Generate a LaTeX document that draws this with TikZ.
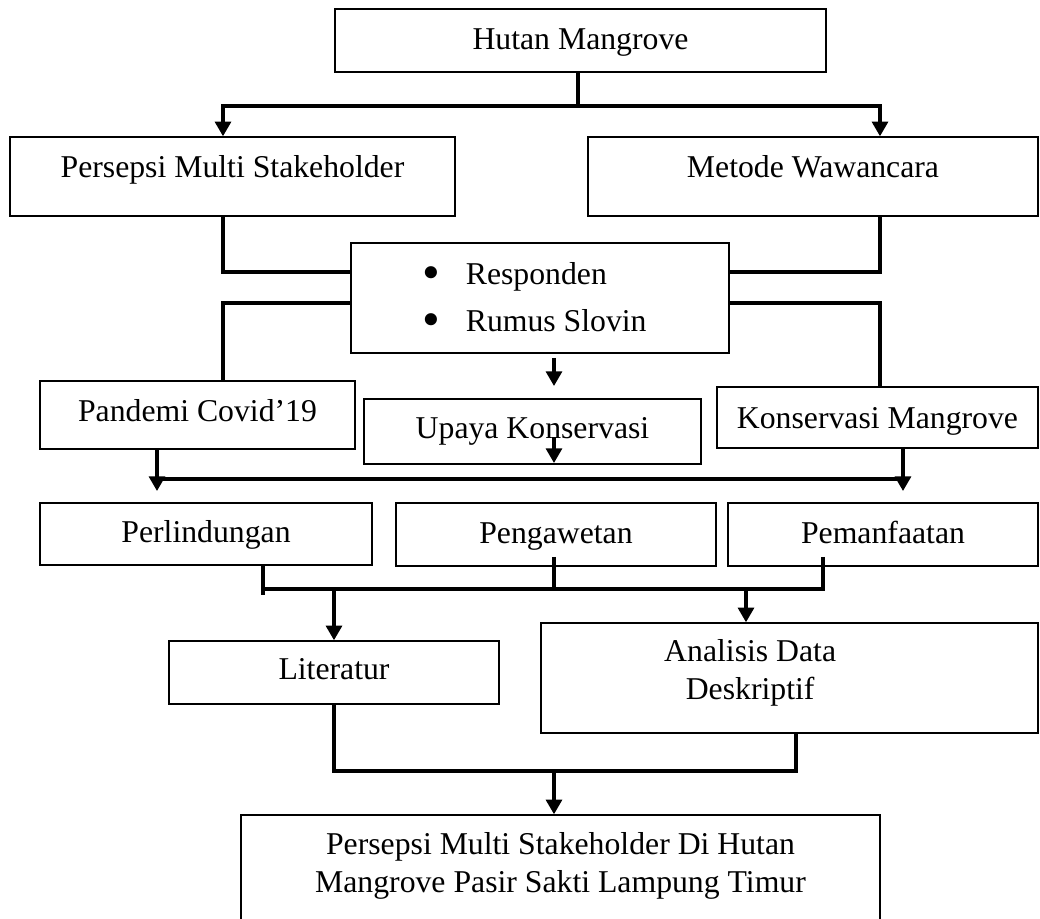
\documentclass[tikz,border=0pt]{standalone}
\usepackage{fontspec}
\setmainfont{Liberation Serif}
\usetikzlibrary{arrows.meta}

\begin{document}
\begin{tikzpicture}[x=0.75pt,y=0.75pt,yscale=-1,
    kotak/.style={draw, line width=1.1pt, inner sep=0pt, align=center, font=\fontsize{23.8}{28.5}\selectfont},
    garis/.style={line width=2.4pt},
    panah/.style={line width=2.4pt, -{Triangle[length=11pt,width=12pt]}}]

    \useasboundingbox (0,0) rectangle (1040,919);

    \draw (580.5,40.5) node [kotak, minimum width=368.25pt, minimum height=47.25pt, text height=21.1pt, text depth=6.9pt] (hutan) {Hutan Mangrove};
    \draw (232.5,176.5) node [kotak, minimum width=333.75pt, minimum height=59.25pt, text height=14.4pt, text depth=13.6pt] (persepsi) {Persepsi Multi Stakeholder};
    \draw (813,176.5) node [kotak, minimum width=337.5pt, minimum height=59.25pt, text height=14.4pt, text depth=13.6pt] (metode) {Metode Wawancara};
    \draw (540,298) node [kotak, align=left, minimum width=283.5pt, minimum height=82.5pt, text height=51.5pt, text depth=0.5pt] (responden) {\raisebox{-3.5pt}{\scalebox{1.6}{\textbullet}}\hspace{19pt}Responden\\[6.75pt]\raisebox{-3.5pt}{\scalebox{1.6}{\textbullet}}\hspace{19pt}Rumus Slovin\hspace*{8pt}};
    \draw (197.5,415) node [kotak, minimum width=236.25pt, minimum height=51pt, text height=19.25pt, text depth=8.75pt] (pandemi) {Pandemi Covid’19};
    \draw (532.5,431.5) node [kotak, minimum width=252.75pt, minimum height=48.75pt, text height=18.9pt, text depth=9.1pt] (upaya) {Upaya Konservasi};
    \draw (877.5,417.5) node [kotak, minimum width=240.75pt, minimum height=45.75pt, text height=21.9pt, text depth=6.1pt] (konservasi) {Konservasi Mangrove};
    \draw (206,534) node [kotak, minimum width=249pt, minimum height=46.5pt, text height=20.75pt, text depth=7.25pt] (perlindungan) {Perlindungan};
    \draw (556,534.5) node [kotak, minimum width=240pt, minimum height=47.25pt, text height=20.4pt, text depth=7.6pt] (pengawetan) {Pengawetan};
    \draw (883,534.5) node [kotak, minimum width=232.5pt, minimum height=47.25pt, text height=20.4pt, text depth=7.6pt] (pemanfaatan) {Pemanfaatan};
    \draw (334,672.5) node [kotak, minimum width=247.5pt, minimum height=47.25pt, text height=19.6pt, text depth=8.4pt] (literatur) {Literatur};
    \draw (789.5,678) node [kotak, minimum width=372.75pt, minimum height=82.5pt, text height=33.5pt, text depth=0.5pt] (analisis) {Analisis Data\hspace*{59pt}\\Deskriptif\hspace*{59pt}};
    \draw (560.5,870) node [kotak, minimum width=479.25pt, minimum height=82.5pt, text height=35.25pt, text depth=0.75pt] (hasil) {Persepsi Multi Stakeholder Di Hutan\\Mangrove Pasir Sakti Lampung Timur};

    \coordinate (kiri) at (223,0);
    \coordinate (kanan) at (880,0);
    \coordinate (tengah) at (554,0);
    \coordinate (cabang) at (578,106);
    \coordinate (sisikiri) at (157,0);
    \coordinate (sisikanan) at (903,0);
    \coordinate (lindung) at (263,0);
    \coordinate (manfaat) at (823,0);
    \coordinate (analisa) at (746,0);
    \coordinate (deskrip) at (796,0);

    \draw [garis] (hutan.south -| cabang) -- (cabang);
    \draw [panah] (cabang) -| (kiri |- persepsi.north);
    \draw [panah] (cabang) -| (kanan |- metode.north);
    \draw [garis] (kiri |- persepsi.south) |- (responden.west |- 0,272);
    \draw [garis] (kanan |- metode.south) |- (responden.east |- 0,272);
    \draw [garis] (responden.west |- 0,303) -| (kiri |- pandemi.north);
    \draw [garis] (responden.east |- 0,303) -| (kanan |- konservasi.north);
    \draw [panah] (tengah |- 0,358) -- (tengah |- 0,386);
    \draw [panah] (tengah |- 0,437) -- (tengah |- 0,463);
    \draw [garis] (sisikiri |- 0,479) -- (sisikanan |- 0,479);
    \draw [panah] (sisikiri |- pandemi.south) -- (sisikiri |- 0,491);
    \draw [panah] (sisikanan |- konservasi.south) -- (sisikanan |- 0,491);
    \draw [garis] (lindung |- perlindungan.south) -- (lindung |- 0,595);
    \draw [garis] (tengah |- 0,557) -- (tengah |- 0,589);
    \draw [garis] (manfaat |- 0,557) |- (lindung |- 0,589);
    \draw [panah] (literatur.north |- 0,589) -- (literatur.north);
    \draw [panah] (analisa |- 0,589) -- (analisa |- analisis.north);
    \draw [garis] (literatur.south) |- (deskrip |- 0,771) -- (deskrip |- analisis.south);
    \draw [panah] (tengah |- 0,771) -- (tengah |- hasil.north);

\end{tikzpicture}
\end{document}
